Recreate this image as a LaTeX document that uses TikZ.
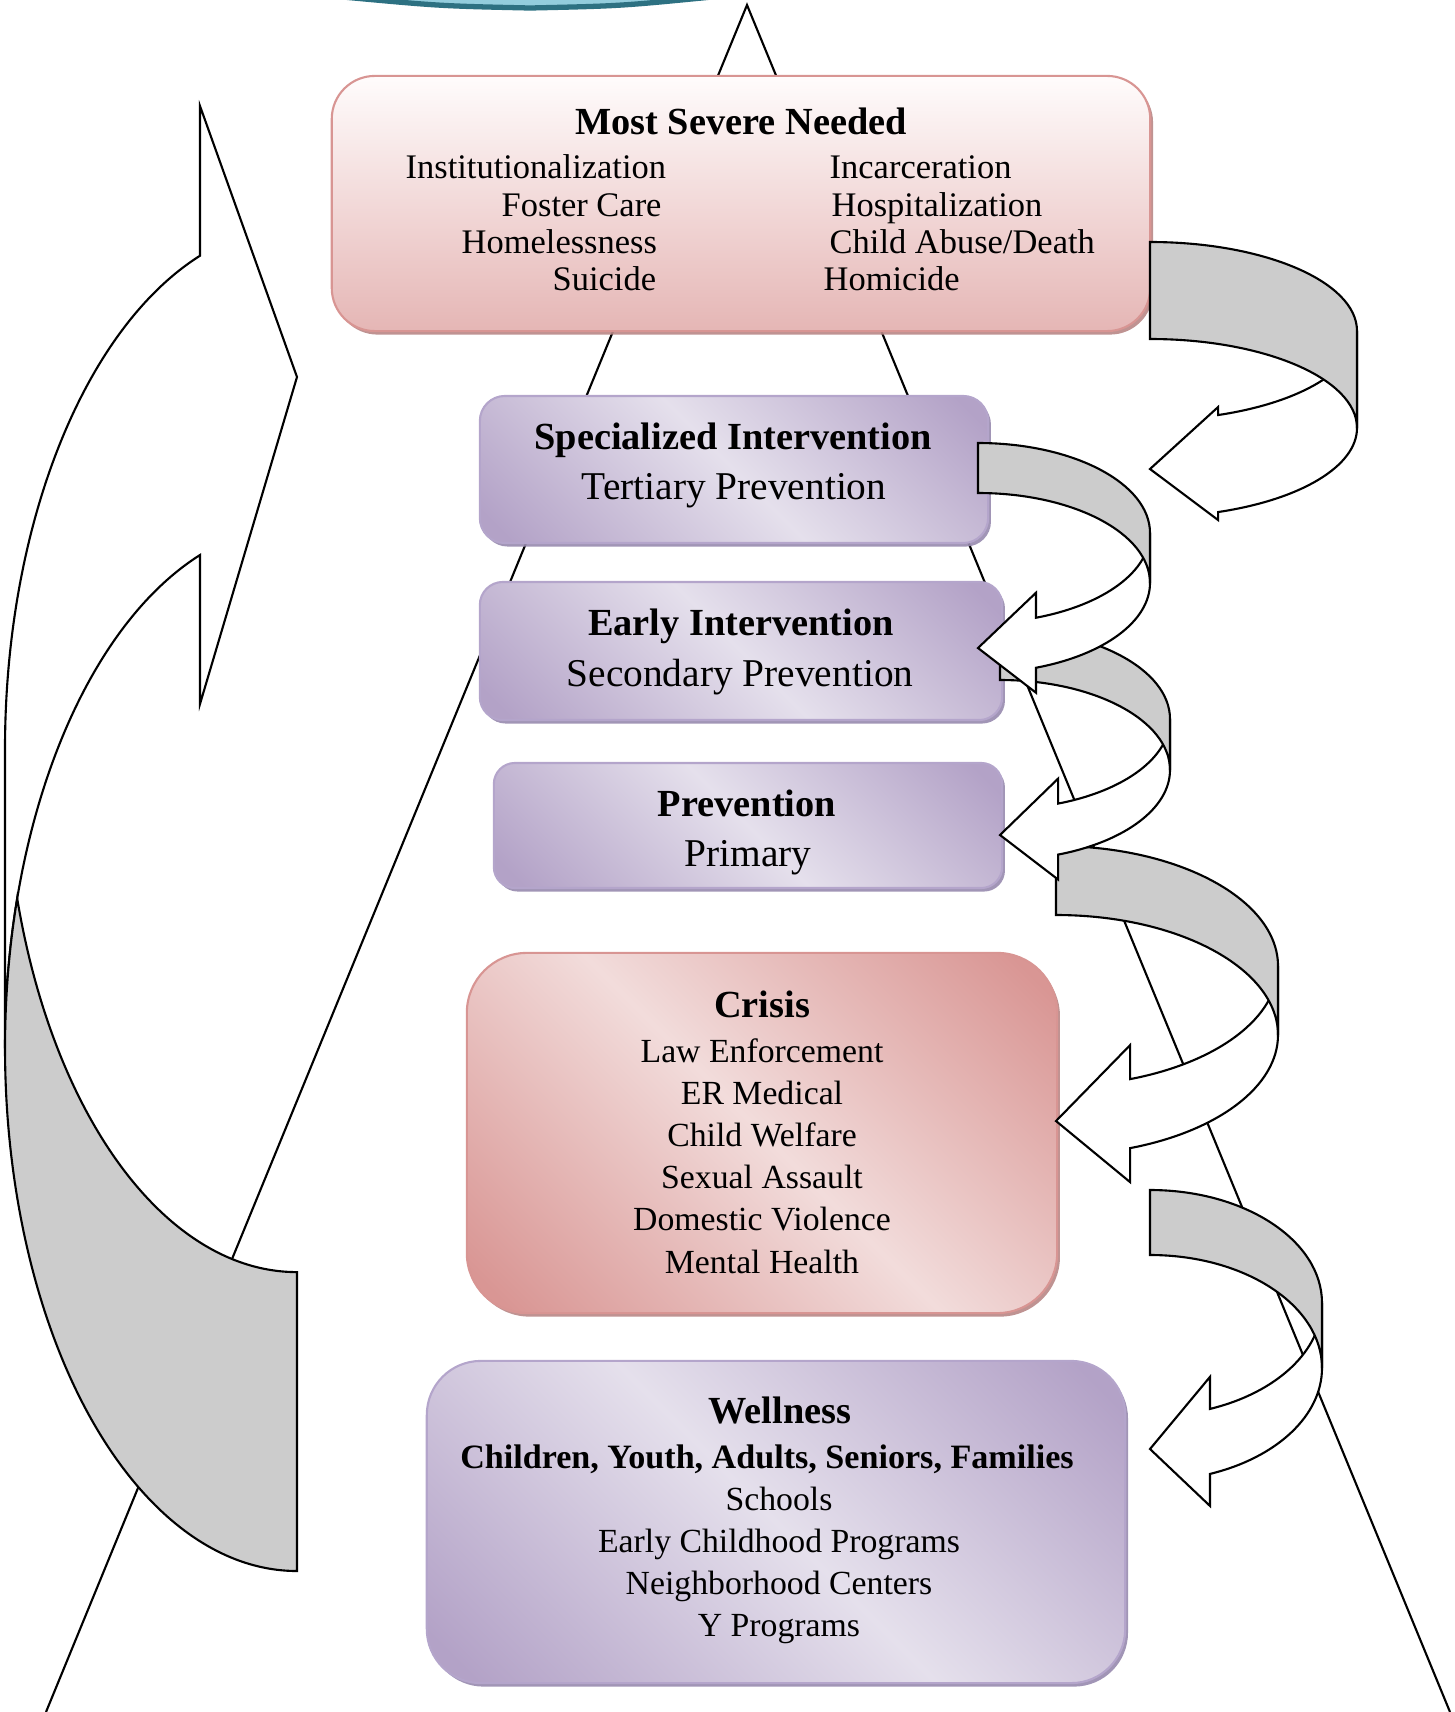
\documentclass[tikz,border=0pt]{standalone}
\usepackage{fontspec}
\setmainfont{Liberation Serif}
\usetikzlibrary{shadows}

\definecolor{roselight}{HTML}{F2DCDB}
\definecolor{rosedark}{HTML}{D99694}
\definecolor{roseedge}{HTML}{D89593}
\definecolor{roseshade}{HTML}{B88786}
\definecolor{blush}{HTML}{FFFCFC}
\definecolor{blushdeep}{HTML}{E5B6B5}
\definecolor{lilaclight}{HTML}{E5E0EC}
\definecolor{lilacdark}{HTML}{B3A2C7}
\definecolor{lilacedge}{HTML}{B4A5CB}
\definecolor{lilacshade}{HTML}{978AAE}
\definecolor{bandgray}{HTML}{CCCCCC}
\definecolor{tealfill}{HTML}{93CDDD}
\definecolor{tealedge}{HTML}{2D7182}

\pgfdeclarehorizontalshading{roseglow}{100bp}{color(0bp)=(rosedark); color(18bp)=(rosedark); color(50bp)=(roselight); color(82bp)=(rosedark); color(100bp)=(rosedark)}
\pgfdeclarehorizontalshading{lilacglow}{100bp}{color(0bp)=(lilacdark); color(18bp)=(lilacdark); color(50bp)=(lilaclight); color(82bp)=(lilacdark); color(100bp)=(lilacdark)}

\tikzset{
  tier/.style={inner sep=0pt, line width=0.6pt},
  severebox/.style={tier, draw=roseedge, top color=blush, bottom color=blushdeep,
    drop shadow={shadow xshift=0.8pt, shadow yshift=-1pt, fill=roseshade, opacity=0.9}},
  rosebox/.style={tier, draw=roseedge, shading=roseglow, shading angle=45,
    drop shadow={shadow xshift=0.8pt, shadow yshift=-1pt, fill=roseshade, opacity=0.9}},
  lilacbox/.style={tier, draw=lilacedge, shading=lilacglow, shading angle=45,
    drop shadow={shadow xshift=0.8pt, shadow yshift=-1pt, fill=lilacshade, opacity=0.9}},
  heading/.style={anchor=base, inner sep=0pt, font=\fontsize{10.9}{13}\selectfont\bfseries},
  groupline/.style={anchor=base, inner sep=0pt, font=\fontsize{9.7}{12}\selectfont\bfseries},
  subhead/.style={anchor=base, inner sep=0pt, font=\fontsize{11.2}{13}\selectfont},
  entry/.style={anchor=base west, inner sep=0pt, font=\fontsize{9.8}{12}\selectfont},
  listline/.style={anchor=base, inner sep=0pt, font=\fontsize{9.6}{12}\selectfont},
  rim/.style={line width=0.6pt},
  bandfront/.style={draw, fill=white, line width=0.6pt},
  bandback/.style={draw, fill=bandgray, line width=0.6pt}
}

% bent block arrow: centre x, centre y, x radius, y radius, band, head angle, flare, tip
\newcommand{\bendarrow}[8]{%
  \draw[bandfront] ({#1+#3},#2) arc[start angle=0, end angle=#6, x radius=#3, y radius=#4]
    -- ++(0,-#7) -- (#8)
    -- ({#1+#3*cos(#6)},{#2+#5+#4*sin(#6)+#7}) -- ++(0,-#7)
    arc[start angle=#6, end angle=0, x radius=#3, y radius=#4] -- cycle;
  \draw[bandback] (#1,{#2-#4}) arc[start angle=-90, end angle=0, x radius=#3, y radius=#4]
    -- ++(0,#5) arc[start angle=0, end angle=-90, x radius=#3, y radius=#4] -- cycle;
}

\begin{document}
\begin{tikzpicture}[x=0.01cm, y=-0.01cm]
  \useasboundingbox (0,0) rectangle (1454,1712);

  % cut-off shape at the top edge
  \draw[fill=tealfill, draw=tealedge, line width=1.5pt]
    (343,-20) -- (343,-3) .. controls (440,6) .. (530,8) .. controls (620,6) .. (712,-3) -- (712,-20) -- cycle;

  % the big triangle behind everything
  \coordinate (apex) at (747,5);
  \coordinate (baseL) at (46,1712);
  \coordinate (baseR) at (1450,1712);
  \draw[rim] (baseL) -- (apex) -- (baseR);

  % tiers
  \node[severebox, minimum width=8.18cm, minimum height=2.55cm, rounded corners=0.43cm] (severe) at (741,203.5) {};
  \node[lilacbox, minimum width=5.08cm, minimum height=1.47cm, rounded corners=0.25cm] (special) at (734,469.5) {};
  \node[lilacbox, minimum width=5.22cm, minimum height=1.38cm, rounded corners=0.23cm] (early) at (741,651) {};
  \node[lilacbox, minimum width=5.08cm, minimum height=1.25cm, rounded corners=0.21cm] (prevent) at (748,825.5) {};
  \node[rosebox, minimum width=5.90cm, minimum height=3.60cm, rounded corners=0.60cm] (crisis) at (762,1133) {};
  \node[lilacbox, minimum width=6.98cm, minimum height=3.22cm, rounded corners=0.54cm] (wellness) at (776,1522) {};

  \node[heading] (severe-title) at (741,134) {Most Severe Needed};
  \node[entry] (inst) at (405,178) {Institutionalization};
  \node[entry] (foster) at (501,216) {Foster Care};
  \node[entry] (homeless) at (461,253) {Homelessness};
  \node[entry] (suicide) at (552,290) {Suicide};
  \node[entry] (jail) at (829,178) {Incarceration};
  \node[entry] (hospital) at (831,216) {Hospitalization};
  \node[entry] (abuse) at (829,253) {Child Abuse/Death};
  \node[entry] (homicide) at (823,290) {Homicide};

  \node[heading] (special-title) at (733,449) {Specialized Intervention};
  \node[subhead] (special-sub) at (734,499) {Tertiary Prevention};
  \node[heading] (early-title) at (741,635) {Early Intervention};
  \node[subhead] (early-sub) at (740,686) {Secondary Prevention};
  \node[heading] (prevent-title) at (747,816) {Prevention};
  \node[subhead] (prevent-sub) at (748,866) {Primary};

  \node[heading] (crisis-title) at (762,1017) {Crisis};
  \foreach \txt [count=\i] in {Law Enforcement, ER Medical, Child Welfare, Sexual Assault, Domestic Violence, Mental Health}
    \node[listline] (crisis-\i) at (762,{1062+42.2*(\i-1)}) {\txt};

  \node[heading] (wellness-title) at (780,1423) {Wellness};
  \node[groupline] (wellness-who) at (767,1468) {Children, Youth, Adults, Seniors, Families};
  \foreach \txt [count=\i] in {Schools, Early Childhood Programs, Neighborhood Centers, Y Programs}
    \node[listline] (wellness-\i) at (779,{1510+42.3*(\i-1)}) {\txt};

  % big arrow up the left side
  \draw[bandfront] (5,749) arc[start angle=180, end angle=250.6, x radius=292, y radius=523]
    -- (200,106) -- (297,377) -- (200,704) -- (200,555)
    arc[start angle=250.6, end angle=180, x radius=292, y radius=523] -- cycle;
  \draw[bandback] (17.2,898.5) arc[start angle=163.4, end angle=90, x radius=292, y radius=523]
    -- (297,1571) arc[start angle=90, end angle=196.6, x radius=292, y radius=523] -- cycle;

  % bent arrows down the right side, lowest first
  \bendarrow{1150}{1303}{172}{113}{65}{69.6}{32}{1150,1449}
  \bendarrow{1056}{966}{222}{120}{69}{70.5}{34}{1056,1121}
  \bendarrow{1000}{719}{170}{90}{51}{70}{25}{1000,835}
  \bendarrow{978}{533}{172}{90}{50}{70.3}{25}{978,648}
  \bendarrow{1150}{331}{207}{89}{97}{70.8}{8}{1150,469}
\end{tikzpicture}
\end{document}
